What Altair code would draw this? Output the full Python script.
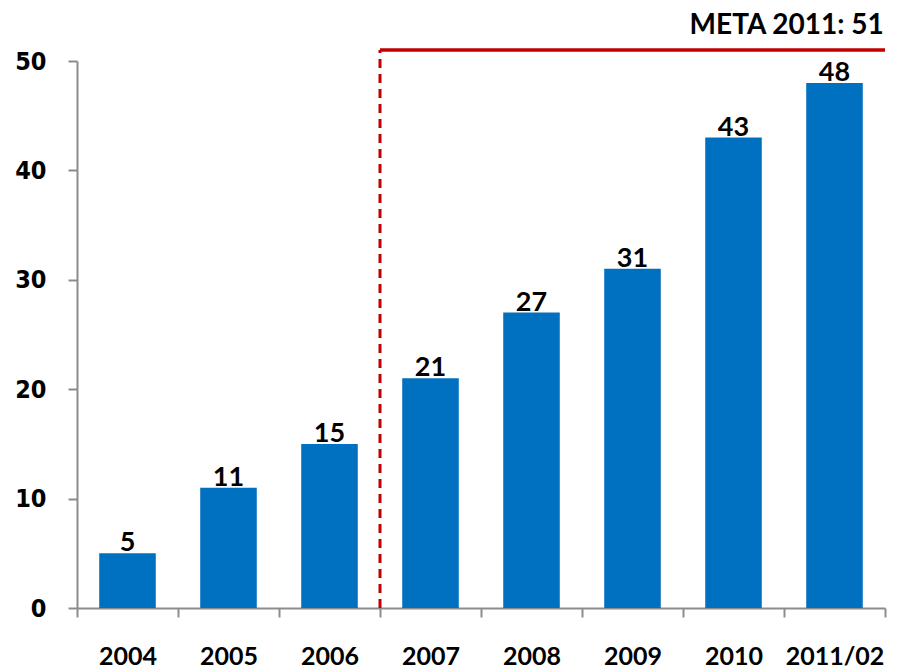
import altair as alt
import pandas as pd

years = ["2004", "2005", "2006", "2007", "2008", "2009", "2010", "2011/02"]
values = [5, 11, 15, 21, 27, 31, 43, 48]
goal_label = "META 2011: 51"
goal_value = 51
goal_start = "2007"
goal_end = "2011/02"

bars_df = pd.DataFrame({"year": years, "value": values})
goal_df = pd.DataFrame({"start": [goal_start], "end": [goal_end], "goal": [goal_value], "zero": [0]})

x_scale = alt.Scale(domain=years, paddingInner=0, paddingOuter=0)
y_scale = alt.Scale(domain=[0, 50], nice=False)

x_axis = alt.Axis(
    title=None, labelFont="Lato", labelFontWeight="bold", labelFontSize=25,
    labelColor="#000000", labelAngle=0, labelPadding=27,
    domainColor="#8c8c8c", domainWidth=2, tickColor="#8c8c8c", tickWidth=2,
    tickSize=9, tickBand="extent", grid=False,
)
y_axis = alt.Axis(
    title=None, values=[0, 10, 20, 30, 40, 50], labelFont="DejaVu Sans Condensed",
    labelFontWeight="bold", labelFontSize=25, labelColor="#000000",
    labelPadding=22, domainColor="#8c8c8c", domainWidth=2,
    tickColor="#8c8c8c", tickWidth=2, tickSize=9, grid=False,
)

base = alt.Chart(bars_df)

bars = base.mark_bar(color="#0070C0", width={"band": 0.56}).encode(
    x=alt.X("year:N", scale=x_scale, axis=x_axis, sort=years),
    y=alt.Y("value:Q", scale=y_scale, axis=y_axis),
)

labels = base.mark_text(
    font="Lato", fontWeight="bold", fontSize=27, color="#000000",
    baseline="alphabetic", dy=-2,
).encode(
    x=alt.X("year:N", sort=years),
    y="value:Q",
    text="value:Q",
)

gbase = alt.Chart(goal_df)
vline = gbase.mark_rule(color="#C00000", strokeWidth=3, strokeDash=[9, 6]).encode(
    x=alt.X("start:N", bandPosition=0),
    y="zero:Q",
    y2="goal:Q",
)
hline = gbase.mark_rule(color="#C00000", strokeWidth=3.5).encode(
    x=alt.X("start:N", bandPosition=0),
    x2=alt.X2("end:N", bandPosition=1),
    y="goal:Q",
)

chart = alt.layer(bars, labels, vline, hline).properties(
    width=808,
    height=547,
    autosize=alt.AutoSizeParams(type="none"),
    padding={"left": 69, "top": 53, "right": 4, "bottom": 62},
    title=alt.TitleParams(
        goal_label, anchor="end", font="Lato", fontWeight="bold",
        fontSize=28, color="#000000", offset=8, dx=-3,
    ),
).configure_view(stroke=None)

chart.save("out.html", embed_options={"renderer": "svg", "actions": False})
